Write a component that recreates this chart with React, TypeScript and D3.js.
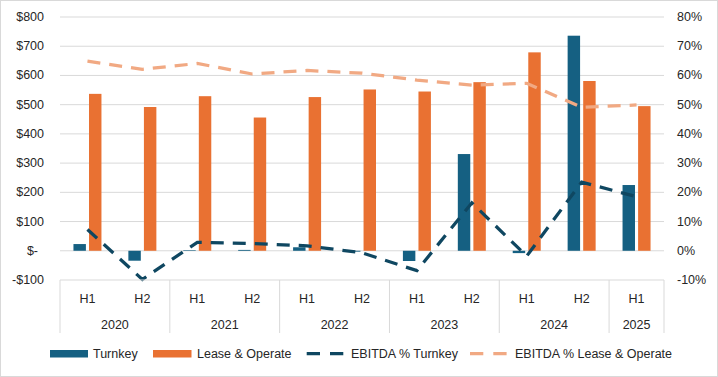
import React from "react";
import * as d3 from "d3";

const halves = ["H1", "H2", "H1", "H2", "H1", "H2", "H1", "H2", "H1", "H2", "H1"];
const years = ["2020", "2021", "2022", "2023", "2024", "2025"];
const yearSpans = [2, 2, 2, 2, 2, 1];
const turnkey = [23, -34, 2, 3, 12, -3, -35, 331, -8, 736, 225];
const leaseOperate = [537, 492, 529, 456, 526, 552, 545, 577, 679, 581, 495];
const ebitdaTurnkey = [0.073, -0.098, 0.029, 0.025, 0.017, -0.007, -0.068, 0.164, -0.018, 0.235, 0.185];
const ebitdaLease = [0.649, 0.621, 0.641, 0.605, 0.617, 0.608, 0.584, 0.567, 0.573, 0.491, 0.499];
const leftTicks = [-100, 0, 100, 200, 300, 400, 500, 600, 700, 800];
const rightTicks = [-0.1, 0, 0.1, 0.2, 0.3, 0.4, 0.5, 0.6, 0.7, 0.8];

const W = 718;
const H = 377;
const C_TURN = "#156082";
const C_LEASE = "#E97132";
const C_LT = "#0F4761";
const C_LL = "#F1A983";
const TXT = "#262626";
const GRID = "#d9d9d9";
const FONT = "'Liberation Sans', Arial, sans-serif";
const FS = 12.5;

export default function App() {
  const idx = halves.map((_, i) => String(i));
  const x = d3.scaleBand<string>().domain(idx).range([60, 664]).padding(0);
  const bw = x.bandwidth();
  const sub = d3.scaleBand<string>().domain(["t", "l"]).range([bw * 0.245, bw * 0.755]).paddingInner(0.2);
  const y = d3.scaleLinear().domain([-100, 800]).range([280, 17]);
  const y2 = d3.scaleLinear().domain([-0.1, 0.8]).range([280, 17]);
  const cx = (i: number) => (x(String(i)) as number) + bw / 2;

  const line = d3
    .line<number>()
    .x((_, i) => cx(i))
    .y((d) => y2(d));

  const fmtLeft = (v: number) => (v === 0 ? "$-" : v < 0 ? `-$${Math.abs(v)}` : `$${v}`);
  const fmtRight = (v: number) => `${Math.round(v * 100)}%`;

  // year boundaries
  const boundaries: number[] = [60];
  let acc = 0;
  yearSpans.forEach((s) => {
    acc += s;
    boundaries.push(acc < halves.length ? (x(String(acc)) as number) : 664);
  });

  return (
    <svg width={W} height={H} style={{ position: "absolute", left: 0, top: 0, fontFamily: FONT }}>
      <rect x={0.5} y={0.5} width={W - 1} height={H - 1} fill="#fff" stroke={GRID} />
      {leftTicks.slice(1).map((t) => (
        <line key={"g" + t} x1={60} x2={664} y1={y(t)} y2={y(t)} stroke={GRID} strokeWidth={1} />
      ))}
      {/* bars */}
      {turnkey.map((v, i) => (
        <rect
          key={"t" + i}
          x={(x(String(i)) as number) + (sub("t") as number)}
          width={sub.bandwidth()}
          y={Math.min(y(v), y(0))}
          height={Math.abs(y(v) - y(0))}
          fill={C_TURN}
        />
      ))}
      {leaseOperate.map((v, i) => (
        <rect
          key={"l" + i}
          x={(x(String(i)) as number) + (sub("l") as number)}
          width={sub.bandwidth()}
          y={Math.min(y(v), y(0))}
          height={Math.abs(y(v) - y(0))}
          fill={C_LEASE}
        />
      ))}
      {/* lines */}
      <path d={line(ebitdaTurnkey) || ""} fill="none" stroke={C_LT} strokeWidth={3.25} strokeDasharray="13 9" />
      <path d={line(ebitdaLease) || ""} fill="none" stroke={C_LL} strokeWidth={3.25} strokeDasharray="13 9" />
      {/* left axis */}
      {leftTicks.map((t) => (
        <text
          key={"lt" + t}
          x={t === 0 ? 38 : 44}
          y={y(t)}
          textAnchor="end"
          dominantBaseline="central"
          fontSize={FS}
          fill={TXT}
        >
          {fmtLeft(t)}
        </text>
      ))}
      {/* right axis */}
      {rightTicks.map((t) => (
        <text key={"rt" + t} x={677} y={y2(t)} textAnchor="start" dominantBaseline="central" fontSize={FS} fill={TXT}>
          {fmtRight(t)}
        </text>
      ))}
      {/* category axis */}
      <line x1={60} x2={664} y1={280} y2={280} stroke={GRID} />
      {boundaries.map((b, i) => (
        <line key={"b" + i} x1={b} x2={b} y1={280} y2={333} stroke={GRID} />
      ))}
      {halves.map((h, i) => (
        <text key={"h" + i} x={cx(i)} y={298.5} textAnchor="middle" dominantBaseline="central" fontSize={FS} fill={TXT}>
          {h}
        </text>
      ))}
      {years.map((yr, i) => (
        <text
          key={"y" + yr}
          x={(boundaries[i] + boundaries[i + 1]) / 2}
          y={324.5}
          textAnchor="middle"
          dominantBaseline="central"
          fontSize={FS}
          fill={TXT}
        >
          {yr}
        </text>
      ))}
      {/* legend */}
      <rect x={50} y={350} width={38} height={7.5} fill={C_TURN} />
      <text x={93} y={353.7} dominantBaseline="central" fontSize={FS} fill={TXT}>
        Turnkey
      </text>
      <rect x={153} y={350} width={38.5} height={7.5} fill={C_LEASE} />
      <text x={197} y={353.7} dominantBaseline="central" fontSize={FS} fill={TXT}>
        Lease &amp; Operate
      </text>
      <line x1={306.7} x2={343.3} y1={353.7} y2={353.7} stroke={C_LT} strokeWidth={3.25} strokeDasharray="13.3 10" />
      <text x={351} y={353.7} dominantBaseline="central" fontSize={FS} fill={TXT}>
        EBITDA % Turnkey
      </text>
      <line x1={470} x2={506.7} y1={353.7} y2={353.7} stroke={C_LL} strokeWidth={3.25} strokeDasharray="13.3 10" />
      <text x={515} y={353.7} dominantBaseline="central" fontSize={FS} fill={TXT}>
        EBITDA % Lease &amp; Operate
      </text>
    </svg>
  );
}
